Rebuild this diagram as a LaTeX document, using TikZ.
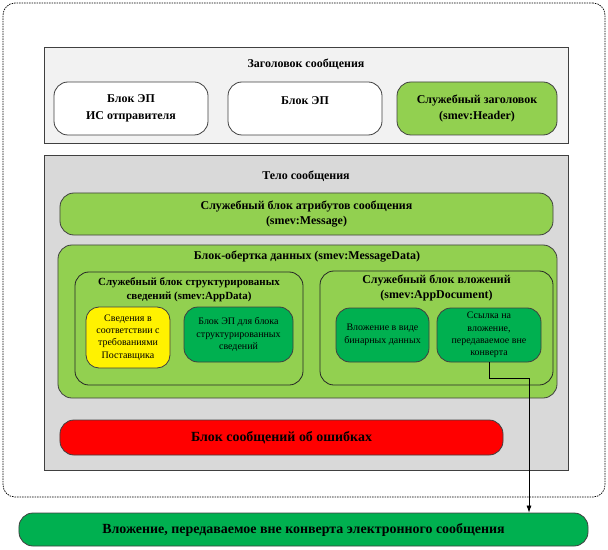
\documentclass[tikz,border=0pt]{standalone}
\usepackage{fontspec}
\setmainfont{Liberation Serif}
\usetikzlibrary{arrows.meta}
\definecolor{lgreen}{HTML}{92D050}
\definecolor{dgreen}{HTML}{00B050}
\definecolor{lgrey}{HTML}{F2F2F2}
\definecolor{mgrey}{HTML}{D9D9D9}
\definecolor{edge}{HTML}{404040}
\begin{document}
\begin{tikzpicture}[x=1bp,y=-1bp,
  box/.style={draw=edge,line width=0.8bp,rounded corners=14bp,align=center,inner sep=2bp},
  panel/.style={draw=edge,line width=0.8bp,inner sep=0},
  ttl/.style={font=\fontsize{12}{14.5}\selectfont\bfseries,align=center,inner sep=0},
  big/.style={font=\fontsize{14}{16}\selectfont\bfseries},
  med/.style={font=\fontsize{12}{16.5}\selectfont\bfseries},
  small/.style={font=\fontsize{10}{12.5}\selectfont},
  arr/.style={-{Latex[length=7bp,width=5bp]},line width=0.7bp}]
\useasboundingbox (0,0) rectangle (608,550);
% outer envelope
\node[draw=black,dash pattern=on 1.5bp off 1bp,line width=0.7bp,rounded corners=12bp,minimum width=602bp,minimum height=494bp,inner sep=0] (env) at (304,250) {};
% header
\node[panel,fill=lgrey,minimum width=524bp,minimum height=96bp] (hdr) at (306,95) {};
\node[ttl] (hdrt) at (306,64) {Заголовок сообщения};
\node[box,fill=white,minimum width=154bp,minimum height=53bp,med] (b1) at (131,108.5) {Блок ЭП\\ИС отправителя};
\node[box,fill=white,minimum width=154bp,minimum height=53bp,med] (b2) at (305,108.5) {Блок ЭП\\\mbox{}};
\node[box,fill=lgreen,minimum width=160bp,minimum height=53bp,med] (b3) at (477,108.5) {Служебный заголовок\\(smev:Header)};
% body
\node[panel,fill=mgrey,minimum width=524bp,minimum height=315bp] (body) at (306,312.5) {};
\node[ttl] (bodyt) at (306,176) {Тело сообщения};
\node[box,fill=lgreen,minimum width=493bp,minimum height=42bp,font=\fontsize{12}{15}\selectfont\bfseries] (msg) at (306.5,214) {Служебный блок атрибутов сообщения\\(smev:Message)};
\node[box,fill=lgreen,minimum width=499bp,minimum height=153bp] (data) at (307.5,321.5) {};
\node[ttl] (datat) at (307,257) {Блок-обертка данных (smev:MessageData)};
\node[box,draw=black!85,fill=lgreen,minimum width=228bp,minimum height=113bp] (appdata) at (189,328.5) {};
\node[ttl,font=\fontsize{11}{14}\selectfont\bfseries] (appdatat) at (189,290) {Служебный блок структурированых\\сведений (smev:AppData)};
\node[box,fill=yellow,minimum width=84bp,minimum height=61bp,small,rounded corners=13bp] (yel) at (128,337.5) {Сведения в\\соответствии с\\требованиями\\Поставщика};
\node[box,fill=dgreen,minimum width=109bp,minimum height=55bp,small] (epd) at (238.5,334.5) {Блок ЭП для блока\\структурированных\\сведений};
\node[box,draw=black!85,fill=lgreen,minimum width=233bp,minimum height=114bp] (appdoc) at (436.5,328) {};
\node[ttl] (appdoct) at (436.5,288) {Служебный блок вложений\\(smev:AppDocument)};
\node[box,fill=dgreen,minimum width=93bp,minimum height=54bp,small] (bin) at (382.5,335) {Вложение в виде\\бинарных данных};
\node[box,fill=dgreen,minimum width=104bp,minimum height=54bp,small] (link) at (489,335) {Ссылка на\\вложение,\\передаваемое вне\\конверта};
% errors
\node[box,fill=red,minimum width=443bp,minimum height=35bp,big] (err) at (281.5,437.5) {Блок сообщений об ошибках};
% external attachment
\node[box,fill=dgreen,minimum width=569bp,minimum height=33bp,big] (ext) at (303.5,529.5) {Вложение, передаваемое вне конверта электронного сообщения};
% connector
\coordinate (turn) at (529,378);
\draw[arr] (link.south) |- (turn) -- (turn |- ext.north);
\end{tikzpicture}
\end{document}
